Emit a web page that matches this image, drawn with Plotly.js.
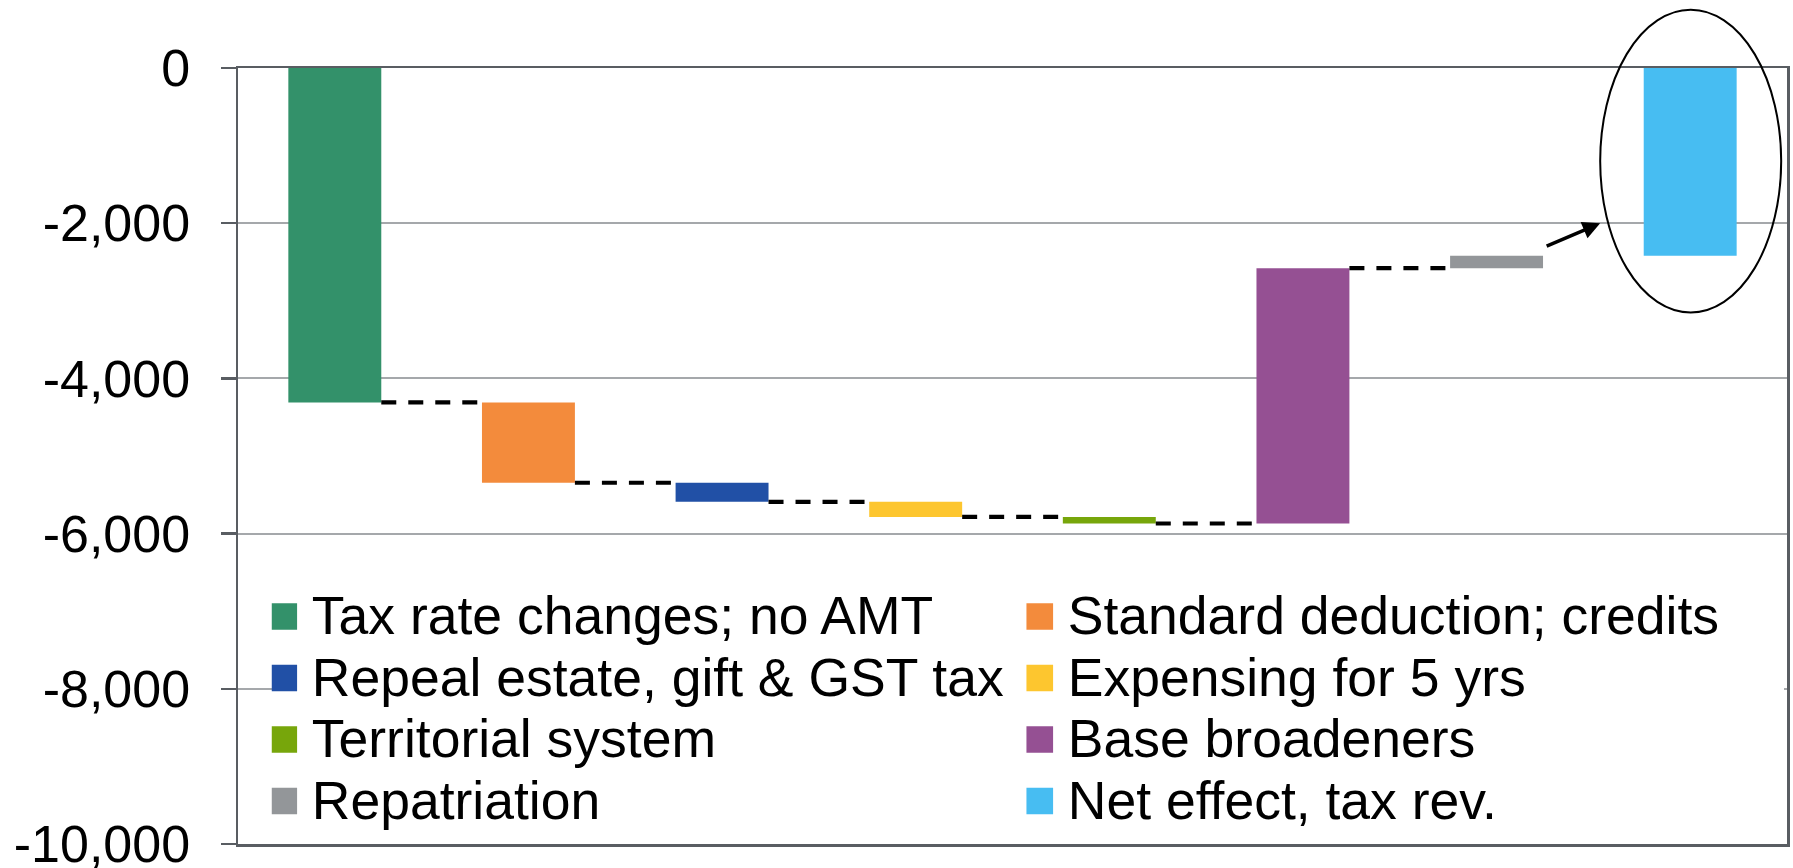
<!DOCTYPE html>
<html><head><meta charset="utf-8">
<script src="https://cdn.plot.ly/plotly-3.0.1.min.js"></script>
<style>
html,body{margin:0;padding:0;background:#fff;}
#chart{width:1793px;height:868px;}
.legend .legendtext{font-size:53.5px !important;}
</style></head><body><div id="chart"></div>
<script>
// ---- data ----
const categories = ["Tax rate changes; no AMT","Standard deduction; credits","Repeal estate, gift & GST tax","Expensing for 5 yrs","Territorial system","Base broadeners","Repatriation","Net effect, tax rev."];
const changes = [-4310, -1035, -245, -195, -85, 3290, 160];
const netEffect = [-2420];
const barColors = ["#33916a","#f38b3c","#2150a6","#fdc62f","#77a60b","#955093","#939699","#47bdf2"];
const tickValues = [0, -2000, -4000, -6000, -8000, -10000];
const tickLabels = ["0", "-2,000", "-4,000", "-6,000", "-8,000", "-10,000"];

// ---- build traces ----
const BW = 0.48;
const traces = [];
let running = 0;
const ends = [];
for (let i = 0; i < changes.length; i++) {
  traces.push({type:'bar', x:[i], y:[changes[i]], base:[running], width:BW,
    marker:{color:barColors[i], line:{width:0}}, name:categories[i], hoverinfo:'skip'});
  running += changes[i];
  ends.push(running);
}
traces.push({type:'bar', x:[changes.length], y:[netEffect[0]], base:[0], width:BW,
  marker:{color:barColors[7], line:{width:0}}, name:categories[7], hoverinfo:'skip'});

const cx = [], cy = [];
for (let i = 0; i < ends.length - 1; i++) {
  cx.push(i + BW/2, i + 1 - BW/2, null);
  cy.push(ends[i], ends[i], null);
}
traces.push({type:'scatter', mode:'lines', x:cx, y:cy, showlegend:false, hoverinfo:'skip',
  line:{color:'#000', width:4.2, dash:'15px,12px'}, connectgaps:false});

const axisColor = '#595d62';
const layout = {
  width:1793, height:868,
  margin:{l:238, r:6, t:68, b:24, pad:0},
  paper_bgcolor:'#fff', plot_bgcolor:'#fff',
  font:{family:'"Liberation Sans", Arial, sans-serif', color:'#000'},
  barmode:'overlay',
  showlegend:true,
  xaxis:{range:[-0.5, 7.5], showgrid:false, zeroline:false, showticklabels:false, ticks:'',
    showline:true, mirror:true, linecolor:axisColor, linewidth:2.5},
  yaxis:{range:[-10000, 0], tickmode:'array', tickvals:tickValues, ticktext:tickLabels,
    ticks:'outside', ticklen:15, tickwidth:2.5, tickcolor:axisColor,
    showline:true, mirror:true, linecolor:axisColor, linewidth:2.5,
    showgrid:true, gridcolor:'#a5a8ab', gridwidth:2, zeroline:false,
    tickfont:{size:52, color:'#000'}, ticklabelstandoff:20, ticklabeloverflow:'allow'},
  legend:{orientation:'h', x:0.0218, xanchor:'left', y:0.3392, yanchor:'top',
    font:{size:45, color:'#000'}, entrywidth:711, entrywidthmode:'pixels',
    bgcolor:'#fff', borderwidth:0, traceorder:'normal'},
  shapes:[
    {type:'circle', layer:'above', xref:'paper', yref:'paper', x0:0.8794, x1:0.99625, y0:0.685, y1:1.075,
      line:{color:'#000', width:2}}
  ],
  annotations:[
    {x:6.535, y:-2001, ax:6.251, ay:-2303, xref:'x', yref:'y', axref:'x', ayref:'y',
      showarrow:true, arrowhead:2, arrowsize:1, arrowwidth:3.5, arrowcolor:'#000', text:''}
  ]
};

Plotly.newPlot('chart', traces, layout, {staticPlot:true, displayModeBar:false}).then(function(gd){
  gd.querySelectorAll('.legend .legendpoints path').forEach(function(p){
    const t = p.getAttribute('transform') || '';
    p.setAttribute('transform', 'translate(-8,0) ' + t + ' scale(2.22)');
  });
});
</script></body></html>
